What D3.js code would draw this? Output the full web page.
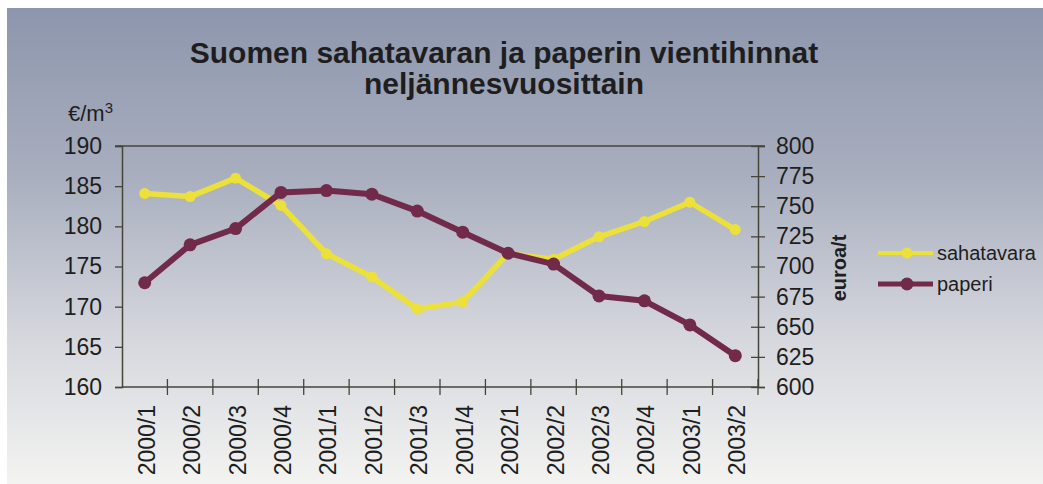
<!DOCTYPE html>
<html>
<head>
<meta charset="utf-8">
<script src="https://cdn.jsdelivr.net/npm/d3@7"></script>
<style>
  body { margin: 0; background: #fff; }
  text { font-family: "Liberation Sans", Arial, sans-serif; fill: #1e1e1e; }
</style>
</head>
<body>
<svg id="chart" width="1043" height="484"></svg>
<script>
// quarters on the x axis
var quarters = ["2000/1", "2000/2", "2000/3", "2000/4", "2001/1", "2001/2", "2001/3",
                "2001/4", "2002/1", "2002/2", "2002/3", "2002/4", "2003/1", "2003/2"];
// sawn timber, €/m3 (left axis)
var sahatavara = [184.1, 183.7, 186.0, 182.6, 176.6, 173.7, 169.7,
                  170.6, 176.6, 175.9, 178.7, 180.6, 183.0, 179.6];
// paper, euroa/t (right axis)
var paperi = [686.5, 718, 731.5, 761.5, 763, 760, 746,
              728.5, 711, 702, 675.5, 671.5, 651.5, 626];
var leftTicks = [160, 165, 170, 175, 180, 185, 190];
var rightTicks = [600, 625, 650, 675, 700, 725, 750, 775, 800];
var titleLines = ["Suomen sahatavaran ja paperin vientihinnat", "neljännesvuosittain"];

var svg = d3.select("#chart");
var yellow = "#ece03a";
var maroon = "#722a4b";
var axisCol = "#45453a";

// background gradient
var defs = svg.append("defs");
var grad = defs.append("linearGradient").attr("id", "bg")
    .attr("x1", 0).attr("y1", 0).attr("x2", 0).attr("y2", 1);
grad.append("stop").attr("offset", "0%").attr("stop-color", "#8d96ad");
grad.append("stop").attr("offset", "35%").attr("stop-color", "#a8aebe");
grad.append("stop").attr("offset", "70%").attr("stop-color", "#d6d8de");
grad.append("stop").attr("offset", "100%").attr("stop-color", "#f3f3f1");
svg.append("rect").attr("x", 7).attr("y", 8).attr("width", 1036).attr("height", 476)
    .attr("fill", "url(#bg)");

// scales
var x = d3.scaleBand().domain(quarters).range([122, 758]);
var yL = d3.scaleLinear().domain([160, 190]).range([387, 146]);
var yR = d3.scaleLinear().domain([600, 800]).range([387, 146]);

// title
svg.append("text")
    .attr("x", 504).attr("y", 63)
    .attr("text-anchor", "middle")
    .style("font-size", "30px").style("font-weight", "bold")
    .selectAll("tspan").data(titleLines).join("tspan")
    .attr("x", 504).attr("dy", function(d, i) { return i == 0 ? 0 : 31; })
    .text(function(d) { return d; });

// top border of plot area
svg.append("line")
    .attr("x1", 115).attr("x2", 765).attr("y1", yL(190)).attr("y2", yL(190))
    .attr("stroke", axisCol).attr("stroke-width", 1.3);

// left axis
var gL = svg.append("g").attr("transform", "translate(122,0)")
    .call(d3.axisLeft(yL).tickValues(leftTicks).tickSize(7).tickPadding(13));
// right axis
var gR = svg.append("g").attr("transform", "translate(758,0)")
    .call(d3.axisRight(yR).tickValues(rightTicks).tickSize(7).tickPadding(11));
gR.selectAll(".tick line").attr("x1", -7);

// bottom axis: labels only, ticks at band edges below
var gB = svg.append("g").attr("transform", "translate(0,387)")
    .call(d3.axisBottom(x).tickSize(0).tickPadding(0));
gB.selectAll(".tick text")
    .attr("transform", "rotate(-90)")
    .attr("x", -18).attr("y", 2).attr("dy", "0.35em")
    .attr("text-anchor", "end");
var edges = quarters.map(function(q) { return x(q); }).slice(1).concat([x.range()[1]]);
svg.append("g").selectAll("line").data(edges).join("line")
    .attr("x1", function(d) { return d; }).attr("x2", function(d) { return d; })
    .attr("y1", 379).attr("y2", 395)
    .attr("stroke", axisCol).attr("stroke-width", 1.3);

[gL, gR, gB].forEach(function(g) {
    g.select(".domain").attr("stroke", axisCol).attr("stroke-width", 1.5);
    g.selectAll(".tick line").attr("stroke", axisCol).attr("stroke-width", 1.3);
    g.selectAll(".tick text").style("font-size", "23px")
        .style("font-family", "'Liberation Sans', Arial, sans-serif").attr("fill", "#1e1e1e");
});
gB.select(".domain").attr("d", "M122,0H758");

// axis titles
var unit = svg.append("text").attr("x", 68).attr("y", 121).style("font-size", "22px");
unit.append("tspan").text("€/m");
unit.append("tspan").attr("dy", -8).style("font-size", "15px").text("3");

svg.append("text")
    .attr("transform", "translate(846,268) rotate(-90)")
    .attr("text-anchor", "middle")
    .style("font-size", "20px").style("font-weight", "bold")
    .text("euroa/t");

// series
var cx = function(d, i) { return x(quarters[i]) + x.bandwidth() / 2; };

var lineL = d3.line().x(cx).y(function(d) { return yL(d); });
svg.append("path").datum(sahatavara).attr("d", lineL)
    .attr("fill", "none").attr("stroke", yellow).attr("stroke-width", 5.5)
    .attr("stroke-linejoin", "round");
svg.append("g").selectAll("circle").data(sahatavara).join("circle")
    .attr("cx", cx).attr("cy", function(d) { return yL(d); })
    .attr("r", 5.5).attr("fill", yellow);

var lineR = d3.line().x(cx).y(function(d) { return yR(d); });
svg.append("path").datum(paperi).attr("d", lineR)
    .attr("fill", "none").attr("stroke", maroon).attr("stroke-width", 6)
    .attr("stroke-linejoin", "round");
svg.append("g").selectAll("circle").data(paperi).join("circle")
    .attr("cx", cx).attr("cy", function(d) { return yR(d); })
    .attr("r", 6.5).attr("fill", maroon);

// legend
var legend = [
    { name: "sahatavara", color: yellow, w: 5, r: 5.5 },
    { name: "paperi", color: maroon, w: 6, r: 6.5 }
];
var lg = svg.append("g").selectAll("g").data(legend).join("g")
    .attr("transform", function(d, i) { return "translate(878," + (253 + i * 31) + ")"; });
lg.append("line").attr("x1", 0).attr("x2", 55)
    .attr("stroke", function(d) { return d.color; })
    .attr("stroke-width", function(d) { return d.w - 1; });
lg.append("circle").attr("cx", 29).attr("r", function(d) { return d.r; })
    .attr("fill", function(d) { return d.color; });
lg.append("text").attr("x", 59).attr("dy", "0.36em")
    .style("font-size", "20px")
    .text(function(d) { return d.name; });
</script>
</body>
</html>
